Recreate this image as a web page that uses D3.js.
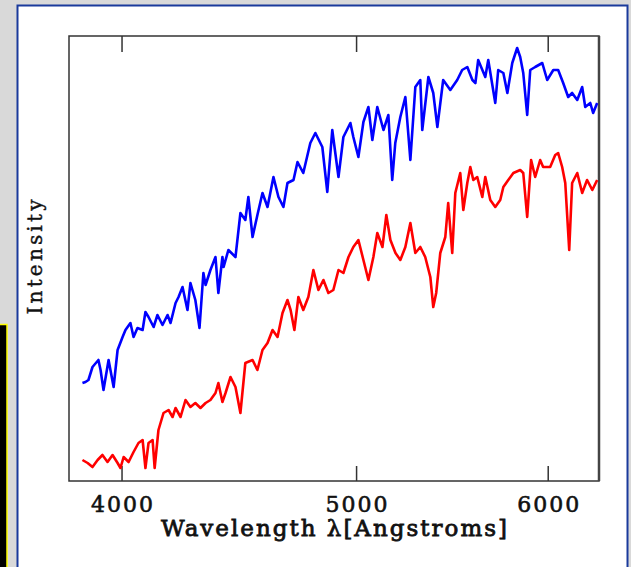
<!DOCTYPE html>
<html>
<head>
<meta charset="utf-8">
<script src="https://cdn.jsdelivr.net/npm/d3@7"></script>
<style>
    html, body { margin: 0; padding: 0; background: #d9d9d9; }
    svg { display: block; }
</style>
</head>
<body>
<svg id="spectra" width="631" height="567"></svg>
<script>
// wavelength in Angstroms, intensity in arbitrary units
let blue_wave = [3854, 3865, 3876, 3891, 3913, 3921, 3932, 3951, 3970, 3985, 4004, 4015, 4034, 4046, 4061, 4081, 4092, 4104, 4124, 4139,
    4159, 4179, 4191, 4211, 4223, 4239, 4259, 4271, 4291, 4308, 4324, 4333, 4353, 4374, 4386, 4403, 4408, 4428, 4458, 4479,
    4500, 4513, 4531, 4552, 4574, 4596, 4622, 4644, 4666, 4684, 4711, 4729, 4755, 4787, 4810, 4842, 4865, 4888, 4917, 4940,
    4973, 4987, 5011, 5035, 5059, 5078, 5102, 5132, 5156, 5175, 5190, 5215, 5240, 5265, 5290, 5315, 5325, 5356, 5381, 5402,
    5432, 5469, 5505, 5531, 5558, 5585, 5601, 5616, 5654, 5670, 5708, 5724, 5752, 5774, 5801, 5828, 5845, 5862, 5884, 5901,
    5929, 5969, 5997, 6032, 6060, 6089, 6118, 6141, 6171, 6200, 6218, 6248, 6265, 6289];
let blue_flux = [98, 99, 101, 114, 121, 111, 91, 121, 94, 131, 144, 151, 158, 144, 153, 151, 169, 164, 154, 166,
    156, 166, 158, 178, 184, 194, 171, 198, 181, 153, 208, 196, 211, 224, 188, 224, 214, 231, 224, 268,
    261, 284, 244, 266, 288, 274, 304, 284, 274, 298, 301, 319, 308, 338, 348, 334, 289, 351, 304, 344,
    358, 344, 324, 359, 374, 341, 374, 351, 366, 301, 338, 364, 384, 321, 394, 401, 351, 404, 388, 354,
    401, 391, 401, 411, 414, 401, 398, 421, 404, 421, 378, 411, 408, 388, 418, 433, 424, 408, 366, 411,
    414, 418, 401, 411, 411, 398, 384, 388, 381, 394, 374, 378, 368, 378];

let red_wave = [3854, 3873, 3891, 3910, 3928, 3947, 3966, 3985, 3996, 4008, 4027, 4046, 4065, 4081, 4092, 4104, 4120, 4128, 4143, 4163,
    4183, 4199, 4211, 4231, 4251, 4271, 4291, 4312, 4333, 4353, 4374, 4386, 4403, 4416, 4437, 4458, 4479, 4500, 4531, 4552,
    4574, 4596, 4618, 4640, 4662, 4684, 4698, 4715, 4733, 4755, 4778, 4801, 4824, 4847, 4870, 4893, 4917, 4940, 4964, 4987,
    5011, 5035, 5059, 5083, 5102, 5127, 5146, 5166, 5191, 5215, 5240, 5265, 5290, 5315, 5340, 5366, 5381, 5396, 5417, 5443,
    5458, 5479, 5495, 5521, 5537, 5558, 5574, 5590, 5611, 5638, 5654, 5681, 5708, 5735, 5752, 5779, 5807, 5845, 5862, 5884,
    5906, 5929, 5957, 5974, 6014, 6043, 6060, 6083, 6101, 6124, 6141, 6171, 6200, 6229, 6260, 6289];
let red_flux = [21, 18, 14, 21, 26, 19, 26, 18, 13, 24, 19, 29, 38, 41, 13, 38, 41, 13, 51, 68,
    71, 64, 73, 64, 81, 74, 78, 73, 78, 81, 88, 98, 79, 88, 104, 94, 68, 118, 121, 111,
    131, 138, 151, 144, 168, 181, 171, 151, 184, 171, 184, 211, 191, 201, 188, 191, 211, 208, 224, 234,
    241, 221, 201, 224, 248, 234, 266, 241, 228, 221, 234, 258, 228, 234, 224, 204, 174, 188, 228, 244,
    278, 228, 288, 308, 271, 298, 314, 301, 304, 284, 304, 281, 274, 281, 294, 301, 308, 311, 308, 264,
    321, 304, 321, 314, 314, 326, 328, 314, 298, 231, 298, 308, 288, 301, 291, 301];

let x_ticks = [4000, 5000, 6000];
let x_domain = [3805, 6300];
let y_domain = [0, 445];

(function(){
    let w = 631, h = 567;
    let left = 69, right = 599, top = 36, bottom = 481;

    let svg = d3.select("#spectra");

    svg.append("rect")
        .attr("width", w)
        .attr("height", h)
        .attr("fill", "#d9d9d9");

    // black box peeking in on the left
    svg.append("rect")
        .attr("x", -10)
        .attr("y", 324.5)
        .attr("width", 17)
        .attr("height", 260)
        .attr("fill", "#000")
        .attr("stroke", "#ffff00")
        .attr("stroke-width", 1.5);

    // white panel
    svg.append("rect")
        .attr("x", 17.5)
        .attr("y", 5.5)
        .attr("width", 610)
        .attr("height", 590)
        .attr("fill", "#fff")
        .attr("stroke", "#1a3a9c")
        .attr("stroke-width", 2);

    let x = d3.scaleLog().domain(x_domain).range([left, right]);
    let y = d3.scaleLinear().domain(y_domain).range([bottom, top]);

    let font = "'DejaVu Serif', 'Liberation Serif', serif";

    let x_axis = svg.append("g")
        .attr("transform", "translate(0," + bottom + ")")
        .call(d3.axisBottom(x)
            .tickValues(x_ticks)
            .tickFormat(d3.format("d"))
            .tickSize(-15));

    svg.append("g")
        .attr("transform", "translate(0," + top + ")")
        .call(d3.axisTop(x)
            .tickValues(x_ticks)
            .tickFormat("")
            .tickSize(-16));

    svg.selectAll(".domain").remove();
    svg.selectAll(".tick line")
        .attr("stroke", "#333")
        .attr("stroke-width", 1.5);

    x_axis.selectAll("text")
        .attr("y", 31)
        .attr("dy", 0)
        .attr("fill", "#111")
        .attr("stroke", "#111")
        .attr("stroke-width", 0.6)
        .attr("textLength", 62)
        .attr("lengthAdjust", "spacing")
        .style("font-family", font)
        .style("font-size", "22px");

    // frame
    svg.append("rect")
        .attr("x", left)
        .attr("y", top)
        .attr("width", right - left)
        .attr("height", bottom - top)
        .attr("fill", "none")
        .attr("stroke", "#333")
        .attr("stroke-width", 1.5);
    svg.append("line")
        .attr("x1", right).attr("x2", right)
        .attr("y1", top).attr("y2", bottom)
        .attr("stroke", "#444")
        .attr("stroke-width", 2.5);

    let line = d3.line()
        .x(d => x(d[0]))
        .y(d => y(d[1]));

    let series = [
        {wave: blue_wave, flux: blue_flux, color: "#0000ff"},
        {wave: red_wave, flux: red_flux, color: "#ff0000"}
    ];

    series.forEach(function (s) {
        svg.append("path")
            .datum(d3.zip(s.wave, s.flux))
            .attr("d", line)
            .attr("fill", "none")
            .attr("stroke", s.color)
            .attr("stroke-width", 2.6)
            .attr("stroke-linejoin", "round");
    });

    svg.append("text")
        .attr("x", (left + right) / 2)
        .attr("y", 536)
        .attr("text-anchor", "middle")
        .attr("fill", "#111")
        .attr("stroke", "#111")
        .attr("stroke-width", 0.8)
        .attr("textLength", 346)
        .attr("lengthAdjust", "spacing")
        .style("font-family", font)
        .style("font-size", "23px")
        .text("Wavelength λ[Angstroms]");

    svg.append("text")
        .attr("transform", "translate(42,257) rotate(-90)")
        .attr("text-anchor", "middle")
        .attr("fill", "#111")
        .attr("stroke", "#111")
        .attr("stroke-width", 0.4)
        .attr("textLength", 115)
        .attr("lengthAdjust", "spacing")
        .style("font-family", font)
        .style("font-size", "20px")
        .text("Intensity");
})();
</script>
</body>
</html>
